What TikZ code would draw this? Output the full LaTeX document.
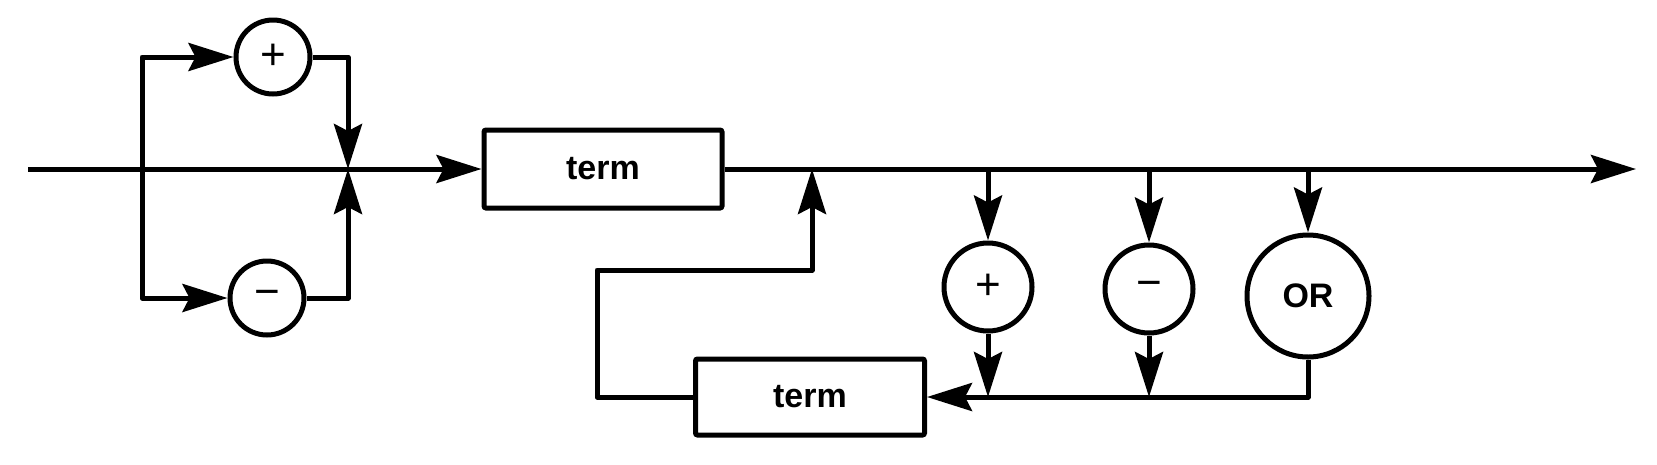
\documentclass[tikz,border=0pt]{standalone}
\usepackage{fontspec}
\setmainfont{Liberation Sans}
\usetikzlibrary{arrows.meta}
\begin{document}
\begin{tikzpicture}[x=1pt,y=-1pt,
  ln/.style={line width=5pt, line join=round},
  arr/.style={ln, -{Stealth[length=45pt,width=28pt,inset=7pt]}},
  box/.style={draw, line width=5pt, rounded corners=2pt, minimum width=238pt, minimum height=78pt, inner sep=0pt, font=\fontsize{34}{34}\selectfont\bfseries},
  op/.style={draw, circle, line width=5pt, inner sep=0pt, font=\fontsize{44}{44}\selectfont},
]
\useasboundingbox (0,0) rectangle (1657,464);
\node[op, minimum size=74pt] (p1) at (273,57) {+};
\node[op, minimum size=74pt] (m1) at (267,298) {−};
\node[box] (t1) at (603,169) {term};
\node[box, minimum width=229pt, minimum height=76pt] (t2) at (810,397) {term};
\node[op, minimum size=88pt] (p2) at (988,287) {+};
\node[op, minimum size=88pt] (m2) at (1149,289) {−};
\node[op, minimum size=122pt, font=\fontsize{34}{34}\selectfont\bfseries] (or) at (1308,296) {OR};

\coordinate (in) at (28,169);
\coordinate (sp) at (142,169);
\coordinate (jn) at (348,169);
\coordinate (out) at (1636,169);
\coordinate (lp) at (812,169);
\coordinate (c1) at (597,270);
\coordinate (a2) at (988,169);
\coordinate (a3) at (1149,169);
\coordinate (a4) at (1308,169);
\coordinate (b2) at (988,397);
\coordinate (b3) at (1149,397);

\draw[arr] (in) -- (t1.west);
\draw[arr] (sp) |- (p1);
\draw[arr] (p1) -| (jn);
\draw[arr] (sp) |- (m1);
\draw[arr] (m1) -| (jn);
\draw[arr] (t1.east) -- (out);
\draw[arr] (t2.west) -| (c1) -| (lp);
\draw[arr] (a2) -- (p2);
\draw[arr] (p2) -- (b2);
\draw[arr] (a3) -- (m2);
\draw[arr] (m2) -- (b3);
\draw[arr] (a4) -- (or);
\draw[arr] (or) |- (t2.east);
\end{tikzpicture}
\end{document}
